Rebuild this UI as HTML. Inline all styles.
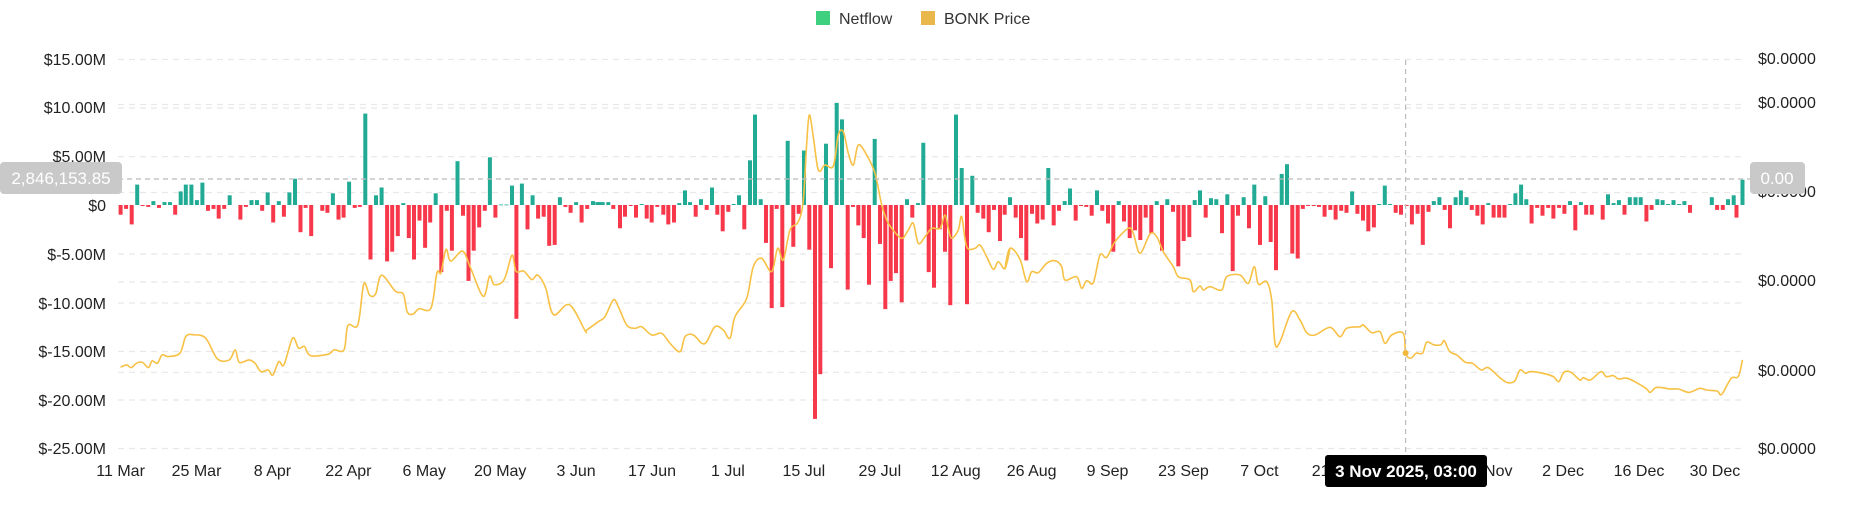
<!DOCTYPE html>
<html><head><meta charset="utf-8"><style>
html,body{margin:0;padding:0;background:#fff;}
svg{display:block;font-family:"Liberation Sans",sans-serif;}
</style></head><body>
<svg id="c" width="1852" height="525" xmlns="http://www.w3.org/2000/svg">
<rect width="1852" height="525" fill="#fff"/>
<g id="grid"></g>
<g id="bars"></g>
<path id="line" fill="none" stroke="#f7c145" stroke-width="1.6"/>
<line x1="1405.6" y1="60" x2="1405.6" y2="455" stroke="#bbb" stroke-dasharray="5,4" stroke-width="1.2"/>
<line x1="118" y1="179" x2="1750" y2="179" stroke="#bbb" stroke-dasharray="5,4" stroke-width="1.2"/>
<circle cx="1405.6" cy="353" r="3" fill="#f2b73b"/>
<g font-size="16" fill="#222" text-anchor="end">
<text x="106" y="65">$15.00M</text><text x="106" y="113">$10.00M</text><text x="106" y="162">$5.00M</text>
<text x="106" y="211">$0</text><text x="106" y="260">$-5.00M</text><text x="106" y="309">$-10.00M</text>
<text x="106" y="357">$-15.00M</text><text x="106" y="406">$-20.00M</text><text x="106" y="454">$-25.00M</text>
</g>
<g font-size="16" fill="#222">
<text x="1758" y="64">$0.0000</text><text x="1758" y="108">$0.0000</text><text x="1758" y="197">$0.0000</text>
<text x="1758" y="286">$0.0000</text><text x="1758" y="376">$0.0000</text><text x="1758" y="454">$0.0000</text>
</g>
<g id="xl" font-size="16" fill="#222" text-anchor="middle"></g>
<rect x="0" y="162" width="122" height="32" rx="4" fill="#c9c9c9"/>
<text x="61" y="184" font-size="17" fill="#fff" text-anchor="middle">2,846,153.85</text>
<rect x="1750" y="162" width="55" height="32" rx="4" fill="#c9c9c9"/>
<text x="1777" y="184" font-size="17" fill="#fff" text-anchor="middle">0.00</text>
<rect x="1325" y="455" width="162" height="32" rx="3" fill="#000"/>
<text x="1406" y="477" font-size="17" font-weight="bold" fill="#fff" text-anchor="middle">3 Nov 2025, 03:00</text>
<rect x="816" y="11" width="14" height="14" fill="#3ecf7f"/>
<text x="839" y="24" font-size="16" fill="#333">Netflow</text>
<rect x="921" y="11" width="14" height="14" fill="#eab84a"/>
<text x="944" y="24" font-size="16" fill="#333">BONK Price</text>
</svg>
<script>
var NS="http://www.w3.org/2000/svg";
function el(t,a,p){var e=document.createElementNS(NS,t);for(var k in a)e.setAttribute(k,a[k]);p.appendChild(e);return e;}
var g=document.getElementById('grid');
[59.5,104.5,108,156.7,192.5,254,282,303,351.5,372.3,400,448.5].forEach(function(y){el('line',{x1:118,x2:1744,y1:y,y2:y,stroke:'#e8e8e8','stroke-dasharray':'6,5','stroke-width':1.2},g);});
var xl=document.getElementById('xl');
["11 Mar","25 Mar","8 Apr","22 Apr","6 May","20 May","3 Jun","17 Jun","1 Jul","15 Jul","29 Jul","12 Aug","26 Aug","9 Sep","23 Sep","7 Oct","21 Oct","4 Nov","18 Nov","2 Dec","16 Dec","30 Dec"].forEach(function(s,k){var t=el('text',{x:120.6+75.92*k,y:476},xl);t.textContent=s;});
var bars=[];
var z1=[[305,-1],[319,-.4],[333,-2],[347,2.1],[361,-.1],[375,-.2],[388,.4],[402,-.3],[416,.3],[430,.3],[443,-1],[457,1.4],[470,2.1],[484,2.1],[498,.5],[512,2.3],[526,-.6],[540,-.4],[553,-1.4],[567,-.4],[581,1],[608,-1.5],[622,-.2],[636,.5],[650,.5],[663,-.6],[677,1.3],[691,-1.8],[705,.4],[718,-1.2],[732,1.3],[746,2.7],[760,-2.8],[773,-.3],[787,-3.2],[815,-.6],[828,-.8],[842,1.2],[856,-1.5],[869,-1.3],[883,2.4],[897,-.3],[910,-.2],[924,9.4],[937,-5.6],[951,1],[965,1.8],[979,-5.8],[992,-4.8],[1006,-3.2],[1020,.2],[1034,-3.4],[1047,-5.6],[1061,-1.6],[1075,-4.4],[1088,-1.8],[1102,1.2],[1116,-6.9],[1130,-.6],[1143,-4.7],[1157,4.5],[1171,-1.1],[1185,-7.8],[1198,-4.7],[1212,-2.3],[1226,-.6],[1239,4.9],[1253,-1.3],[1267,.05],[1281,.05],[1295,2],[1306,-11.7],[1320,2.2],[1334,-2.5],[1347,1],[1361,-1.4],[1375,-1.2],[1389,-4.2],[1403,-4.1],[1416,.8],[1430,-.2],[1443,-.8],[1457,.3],[1471,-1.8],[1485,-.4]];
z1.forEach(function(b){bars.push([b[0]*0.3954,b[1]]);});
bars.push([593,.4]);bars.push([599,.3]);
var z3=[[52,.3],[68,.3],[85,.3],[100,-.4],[120,-2.4],[135,-1.2],[152,-.1],[168,-1.3],[185,.1],[200,-1.4],[215,-1.8],[232,-.2],[250,-1],[265,-2],[282,-1.8],[298,.2],[315,1.5],[330,.3],[347,-1.2],[363,.6],[380,-.5],[396,1.8],[412,-1],[428,-2.7],[445,-.7],[461,.1],[477,1],[493,-2.5],[510,4.6],[525,9.3],[542,.6],[558,-3.9],[575,-10.6],[590,-.4],[607,-10.5],[623,6.6],[640,-4.3],[656,-.9],[672,5.6],[688,-4.6],[705,-22],[721,-17.4],[738,6.3],[753,-6.5],[770,10.5],[786,8.8],[803,-8.7],[819,-.2],[835,-2.1],[851,-3.4],[867,-8.2],[884,6.8],[900,-4],[916,-10.7],[932,-7.8],[948,-7],[965,-10],[981,.6],[997,-1.3],[1014,.2],[1030,6.4],[1046,-6.9],[1062,-8.5],[1079,-2.5],[1095,-4.8],[1111,-10.3],[1128,9.3],[1145,3.8],[1161,-10.2],[1177,3],[1193,-.8],[1210,-1.4],[1226,-2.8],[1242,-.5]];
z3.forEach(function(b){bars.push([580+b[0]/3,b[1]]);});
var z4=[[0,-3.7],[14,-1],[30,.8],[47,-1.3],[63,-3.4],[79,-5.7],[96,-.9],[112,-1.9],[128,-1.5],[145,3.8],[161,-2.1],[177,-.6],[194,.4],[210,1.7],[227,-1.6],[243,-.1],[259,-.2],[275,-1.1],[291,1.5],[307,-.6],[324,-1.9],[340,-4.8],[356,.4],[372,-1.7],[389,-3.4],[405,-2.6],[421,-3.6],[437,-1.3],[454,-2.9],[470,.4],[486,-4.7],[502,.6],[519,-.7],[535,-6.3],[551,-3.7],[568,-3.3],[584,.5],[600,1.5],[617,-1.3],[633,.7],[649,.6],[666,-2.9],[682,1.1],[698,-6.8],[714,-1.1],[731,.8],[747,-2.4],[763,2.1],[780,-4.1],[796,.9],[812,-3.8],[828,-6.7],[845,3.2],[861,4.2],[877,-5],[893,-5.5]];
z4.forEach(function(b){bars.push([1000+b[0]/3,b[1]]);});
var z2=[[8,-.4],[23,-.1],[39,-.1],[54,-.2],[70,-1.2],[86,-.5],[101,-1.5],[117,-.6],[132,-.8],[148,1.4],[163,-.9],[179,-1.6],[194,-2.7],[210,-2.3],[225,.1],[241,2],[256,.1],[272,-.8],[287,-1],[303,-.1],[318,-2],[334,-.9],[349,-4.1],[365,-.7],[380,.4],[396,.8],[411,-.5],[426,-2.4],[442,.8],[457,1.5],[473,.8],[488,-.5],[504,-1.1],[519,-2],[535,.2],[550,-1.3],[566,-1.3],[581,-1.3],[597,.1],[612,1.2],[628,2.1],[643,.6],[658,-1.9],[674,-.3],[689,-1.1],[705,-.3],[720,-1.4],[736,-.3],[751,-.9],[767,.4],[782,-2.6],[798,.3],[813,-1],[829,-1],[860,-1.5],[875,1.1],[891,.2],[906,.5],[922,-1],[937,.8],[953,.8],[968,.8],[984,-1.7],[999,-.5],[1015,.6],[1030,.5],[1046,.1],[1061,.5],[1077,.1],[1092,.4],[1108,-.8],[1170,.8],[1185,-.5],[1201,-.5],[1216,.6],[1232,1],[1240,-1.3],[1257,2.6]];
z2.forEach(function(b){bars.push([1300+b[0]*0.352,b[1]]);});
var bg=document.getElementById('bars');
bars.forEach(function(b){var h=b[1]*9.725,y=h>0?205-h:205;el('rect',{x:(b[0]-2).toFixed(1),y:y.toFixed(1),width:4,height:Math.max(Math.abs(h),0.8).toFixed(1),fill:b[1]>=0?'#22ab94':'#f7374a'},bg);});
var pts=[];
[[305,1097],[320,1090],[332,1098],[345,1085],[360,1082],[375,1098],[385,1078],[398,1085],[410,1060],[425,1065],[455,1055],[470,1005],[490,1000],[520,1010],[550,1072],[580,1075],[595,1045],[605,1082],[630,1075],[645,1085],[660,1110],[678,1105],[690,1120],[705,1080],[718,1090],[740,1010],[755,1040],[770,1035],[785,1062],[830,1058],[845,1045],[870,1045],[880,972],[905,970],[920,848],[935,882],[950,878],[965,822],[1000,870],[1020,878],[1030,932],[1045,938],[1060,922],[1090,920],[1105,815],[1115,815],[1128,745],[1140,780],[1170,750],[1190,800],[1222,885],[1238,825],[1250,850],[1275,835],[1295,762],[1305,810],[1325,810],[1345,835],[1360,822],[1380,860],[1400,940],[1440,910],[1480,988]].forEach(function(p){pts.push([p[0]*0.3954,p[1]*0.3348]);});
[[20,810],[55,785],[75,770],[100,720],[115,740],[140,795],[165,805],[185,800],[215,825],[245,820],[270,850],[300,875],[315,830],[340,825],[365,850],[380,845],[405,800],[430,810],[450,835],[465,770],[500,715],[520,620],[545,595],[575,635],[593,565],[610,600],[630,510],[655,485],[670,420],[680,250],[688,165],[700,230],[715,330],[735,315],[760,318],[775,225],[790,215],[805,280],[820,315],[835,255],[860,285],[885,340],[905,435],[920,480],[935,505],[965,535],[985,510],[1000,490],[1015,550],[1035,530],[1055,505],[1080,505],[1095,465],[1105,505],[1115,535],[1135,510],[1145,470],[1160,560],[1185,565],[1200,555],[1220,590],[1240,628],[1255,605],[1275,625],[1290,565]].forEach(function(p){pts.push([580+p[0]/3,60+p[1]/3]);});
[[15,628],[30,565],[60,598],[80,665],[95,635],[115,638],[140,610],[165,602],[185,620],[195,660],[230,650],[245,685],[260,662],[280,668],[300,585],[320,592],[345,545],[385,505],[400,520],[420,580],[450,522],[470,530],[490,575],[520,620],[535,650],[570,660],[580,695],[600,678],[610,690],[630,680],[665,690],[680,650],[720,645],[745,670],[763,620],[775,672],[800,665],[815,720],[825,850],[840,845],[875,755],[900,780],[920,818],[945,825],[990,802],[1020,830],[1040,805],[1080,800],[1090,795],[1115,818],[1140,815],[1155,850],[1175,825],[1210,820],[1217,880]].forEach(function(p){pts.push([1000+p[0]/3,60+p[1]/3]);});
[[315,1070],[330,1055],[348,1055],[360,1022],[380,1030],[400,1030],[410,1018],[425,1050],[445,1060],[470,1082],[490,1085],[515,1105],[535,1098],[570,1130],[590,1143],[610,1138],[625,1105],[640,1115],[655,1110],[690,1115],[720,1125],[735,1140],[750,1112],[770,1112],[795,1135],[805,1128],[825,1135],[855,1110],[870,1125],[890,1122],[905,1132],[930,1130],[965,1148],[985,1162],[995,1172],[1010,1158],[1030,1158],[1050,1162],[1075,1162],[1105,1172],[1135,1160],[1155,1165],[1185,1168],[1198,1178],[1225,1130],[1245,1125],[1257,1075]].forEach(function(p){pts.push([1300+p[0]*0.352,p[1]*0.3348]);});
var d="M"+pts[0][0].toFixed(1)+","+pts[0][1].toFixed(1);
for(var i=0;i<pts.length-1;i++){var p0=pts[i-1]||pts[i],p1=pts[i],p2=pts[i+1],p3=pts[i+2]||p2;
var c1=[p1[0]+(p2[0]-p0[0])/6,p1[1]+(p2[1]-p0[1])/6],c2=[p2[0]-(p3[0]-p1[0])/6,p2[1]-(p3[1]-p1[1])/6];
d+="C"+c1[0].toFixed(1)+","+c1[1].toFixed(1)+" "+c2[0].toFixed(1)+","+c2[1].toFixed(1)+" "+p2[0].toFixed(1)+","+p2[1].toFixed(1);}
document.getElementById('line').setAttribute('d',d);
</script>
</body></html>
